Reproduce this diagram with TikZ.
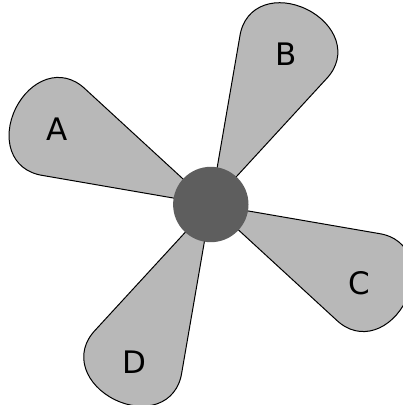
\documentclass[tikz,border=0pt]{standalone}
\usepackage{fontspec}
\setmainfont{DejaVu Sans}
\definecolor{petalgray}{HTML}{B8B8B8}
\definecolor{hubgray}{HTML}{5E5E5E}
\tikzset{
  petalline/.style={fill=petalgray, draw=black, line width=1pt, line join=round},
  petal/.pic={
    \path[petalline] (0,0) -- (163.08,48.0)
      .. controls (195.5,58.5) and (217.5,32) .. (217.5,0)
      .. controls (217.5,-32) and (195.5,-58.5) .. (163.08,-48.0) -- cycle;
  },
  hubstyle/.style={circle, fill=hubgray, minimum size=75.4pt, inner sep=0pt},
  lbl/.style={inner sep=0pt, font=\fontsize{31}{37}\selectfont}
}
\begin{document}
\begin{tikzpicture}[x=1pt, y=1pt]
  \useasboundingbox (0,0) rectangle (403,405);
  \clip (0,0) rectangle (403,405);
  \coordinate (c) at (210.8,200.5);
  \pic[rotate=63.8] at (c) {petal};
  \pic[rotate=153.8] at (c) {petal};
  \pic[rotate=243.8] at (c) {petal};
  \pic[rotate=333.8] at (c) {petal};
  \node[hubstyle] (hub) at (c) {};
  \node[lbl] (A) at (57.2,275.7) {A};
  \node[lbl] (B) at (286.3,350.5) {B};
  \node[lbl] (C) at (359.3,121.3) {C};
  \node[lbl] (D) at (134.5,42.7) {D};
\end{tikzpicture}
\end{document}
